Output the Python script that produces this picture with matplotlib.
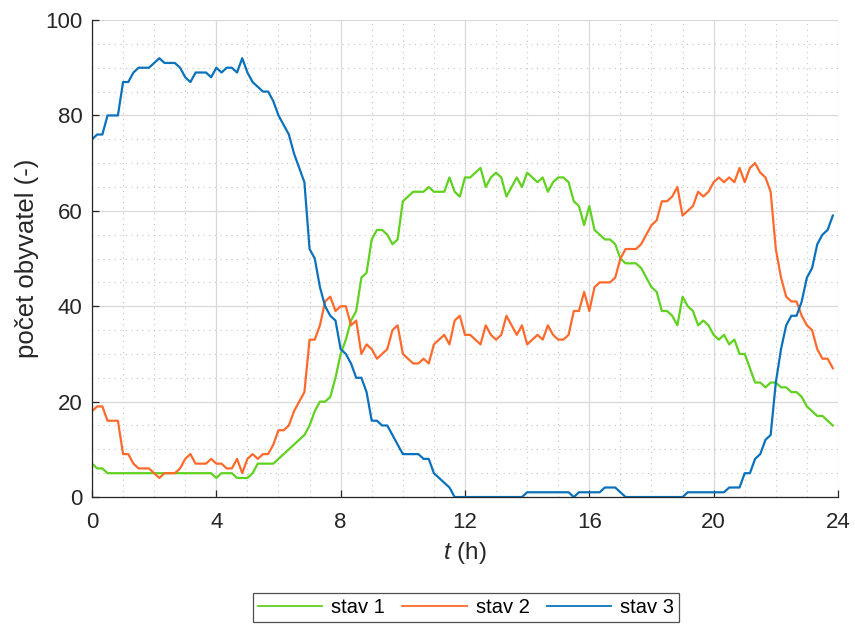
import numpy as np
import matplotlib
matplotlib.use("Agg")
import matplotlib.pyplot as plt
from matplotlib.ticker import MultipleLocator

plt.rcParams['font.family'] = ['Liberation Sans', 'DejaVu Sans']
plt.rcParams['mathtext.fontset'] = 'custom'
plt.rcParams['mathtext.it'] = 'Liberation Sans:italic'
plt.rcParams['mathtext.rm'] = 'Liberation Sans'

# time axis: 10-minute samples over one day
step_h = 1 / 6
n_samples = 144

stav_1 = [7, 6, 6, 5, 5, 5, 5, 5, 5, 5, 5, 5, 5, 5, 5, 5, 5, 5, 5, 5,
          5, 5, 5, 5, 4, 5, 5, 5, 4, 4, 4, 5, 7, 7, 7, 7, 8, 9, 10, 11,
          12, 13, 15, 18, 20, 20, 21, 25, 30, 33, 37, 39, 46, 47, 54, 56, 56, 55, 53, 54,
          62, 63, 64, 64, 64, 65, 64, 64, 64, 67, 64, 63, 67, 67, 68, 69, 65, 67, 68, 67,
          63, 65, 67, 65, 68, 67, 66, 67, 64, 66, 67, 67, 66, 62, 61, 57, 61, 56, 55, 54,
          54, 53, 50, 49, 49, 49, 48, 46, 44, 43, 39, 39, 38, 36, 42, 40, 39, 36, 37, 36,
          34, 33, 34, 32, 33, 30, 30, 27, 24, 24, 23, 24, 24, 23, 23, 22, 22, 21, 19, 18,
          17, 17, 16, 15]

stav_2 = [18, 19, 19, 16, 16, 16, 9, 9, 7, 6, 6, 6, 5, 4, 5, 5, 5, 6, 8, 9,
          7, 7, 7, 8, 7, 7, 6, 6, 8, 5, 8, 9, 8, 9, 9, 11, 14, 14, 15, 18,
          20, 22, 33, 33, 36, 41, 42, 39, 40, 40, 36, 37, 30, 32, 31, 29, 30, 31, 35, 36,
          30, 29, 28, 28, 29, 28, 32, 33, 34, 32, 37, 38, 34, 34, 33, 32, 36, 34, 33, 34,
          38, 36, 34, 36, 32, 33, 34, 33, 36, 34, 33, 33, 34, 39, 39, 43, 39, 44, 45, 45,
          45, 46, 50, 52, 52, 52, 53, 55, 57, 58, 62, 62, 63, 65, 59, 60, 61, 64, 63, 64,
          66, 67, 66, 67, 66, 69, 66, 69, 70, 68, 67, 64, 52, 46, 42, 41, 41, 38, 36, 35,
          31, 29, 29, 27]

stav_3 = [75, 76, 76, 80, 80, 80, 87, 87, 89, 90, 90, 90, 91, 92, 91, 91, 91, 90, 88, 87,
          89, 89, 89, 88, 90, 89, 90, 90, 89, 92, 89, 87, 86, 85, 85, 83, 80, 78, 76, 72,
          69, 66, 52, 50, 44, 40, 38, 37, 31, 30, 28, 25, 25, 22, 16, 16, 15, 15, 13, 11,
          9, 9, 9, 9, 8, 8, 5, 4, 3, 2, 0, 0, 0, 0, 0, 0, 0, 0, 0, 0,
          0, 0, 0, 0, 1, 1, 1, 1, 1, 1, 1, 1, 1, 0, 1, 1, 1, 1, 1, 2,
          2, 2, 1, 0, 0, 0, 0, 0, 0, 0, 0, 0, 0, 0, 0, 1, 1, 1, 1, 1,
          1, 1, 1, 2, 2, 2, 5, 5, 8, 9, 12, 13, 24, 31, 36, 38, 38, 41, 46, 48,
          53, 55, 56, 59]

series = [("stav 1", stav_1, "#5fd21f"),
          ("stav 2", stav_2, "#ff6a2c"),
          ("stav 3", stav_3, "#0a72bd")]

t = np.arange(n_samples) * step_h

fig = plt.figure(figsize=(8.55, 6.26), dpi=100)
ax = fig.add_axes([0.1076, 0.206, 0.8725, 0.762])

for name, vals, col in series:
    ax.plot(t, vals, color=col, lw=1.6, label=name, solid_joinstyle='round')

ax.set_xlim(0, 24)
ax.set_ylim(0, 100)
ax.xaxis.set_major_locator(MultipleLocator(4))
ax.xaxis.set_minor_locator(MultipleLocator(1))
ax.yaxis.set_major_locator(MultipleLocator(20))
ax.yaxis.set_minor_locator(MultipleLocator(5))

ax.grid(which='major', color='#d9d9d9', lw=0.9, ls='-')
ax.grid(which='minor', color='#c4c4c4', lw=0.8, ls=(0, (1, 4)))
ax.set_axisbelow(True)

for s in ('top', 'right'):
    ax.spines[s].set_visible(False)
for s in ('left', 'bottom'):
    ax.spines[s].set_color('#262626')
    ax.spines[s].set_linewidth(0.9)

ax.tick_params(which='major', direction='in', length=5, width=0.9,
               colors='#262626', labelsize=16)
ax.tick_params(axis='y', which='major', pad=7)
ax.tick_params(axis='x', which='major', pad=11)
ax.tick_params(which='minor', length=0)

ax.set_xlabel('$t$ (h)', fontsize=17.5, color='#262626', labelpad=5)
ax.set_ylabel('počet obyvatel (-)', fontsize=18.5, color='#262626', labelpad=4)

leg = fig.legend(loc='lower center', bbox_to_anchor=(0.545, 0.006), ncol=3,
                 fontsize=14.5, frameon=True, fancybox=False, handlelength=3.2,
                 columnspacing=0.85, handletextpad=0.45, borderpad=0.25,
                 borderaxespad=0.0)
leg.get_frame().set_edgecolor('#262626')
leg.get_frame().set_linewidth(0.9)
for line in leg.get_lines():
    line.set_linewidth(1.3)

fig.savefig('out.png', dpi=100)
